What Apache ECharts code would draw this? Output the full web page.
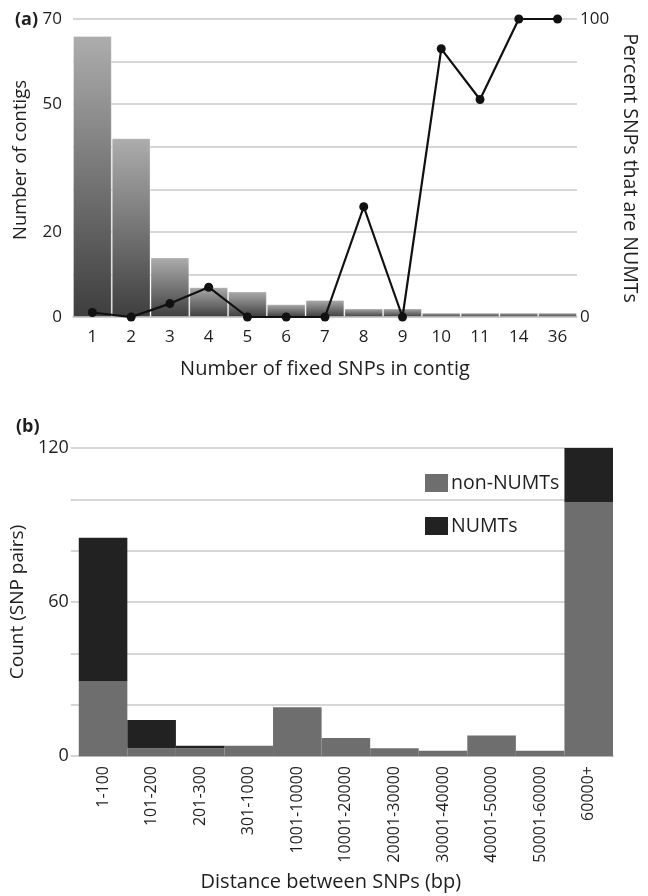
<!DOCTYPE html>
<html>
<head>
<meta charset="utf-8">
<script src="https://cdn.jsdelivr.net/npm/echarts@6/dist/echarts.min.js"></script>
<style>
html,body{margin:0;padding:0;background:#fff;}
#chart{width:648px;height:896px;}
</style>
</head>
<body>
<div id="chart"></div>
<script>
// Panel (a)
const fixedSnps = ['1','2','3','4','5','6','7','8','9','10','11','14','36'];
const contigCounts = [66, 42, 14, 7, 6, 3, 4, 2, 2, 1, 1, 1, 1];
const percentNumts = [1.5, 0, 4.5, 10, 0, 0, 0, 37, 0, 90, 73, 100, 100];
const leftTicksShown = [0, 20, 50, 70];
// Panel (b)
const distBins = ['1-100','101-200','201-300','301-1000','1001-10000','10001-20000','20001-30000','30001-40000','40001-50000','50001-60000','60000+'];
const nonNumts = [29, 3, 3, 4, 19, 7, 3, 2, 8, 2, 99];
const numts = [56, 11, 1, 0, 0, 0, 0, 0, 0, 0, 21];
const countTicksShown = [0, 60, 120];

const FONT = 'Open Sans';
const TXT = '#1e1e1e';
const GRIDC = '#c8c8c8';

const chart = echarts.init(document.getElementById('chart'), null, {renderer: 'canvas'});
chart.setOption({
  animation: false,
  textStyle: {fontFamily: FONT, color: TXT},
  title: [
    {text: '(a)', left: 10, top: 6, textStyle: {fontFamily: FONT, fontWeight: 'bold', fontSize: 18, color: TXT}},
    {text: '(b)', left: 11, top: 413, textStyle: {fontFamily: FONT, fontWeight: 'bold', fontSize: 18, color: TXT}}
  ],
  legend: {
    orient: 'vertical',
    left: 420, top: 468,
    itemWidth: 23, itemHeight: 18, itemGap: 23,
    icon: 'rect',
    textStyle: {fontFamily: FONT, fontSize: 19.5, color: TXT, padding: [0,0,0,-2]},
    data: ['non-NUMTs', 'NUMTs']
  },
  grid: [
    {left: 73, top: 19, width: 518, height: 298},
    {left: 73, top: 448, width: 540, height: 308}
  ],
  xAxis: [
    {
      type: 'category', gridIndex: 0, data: fixedSnps,
      axisTick: {show: false},
      axisLine: {lineStyle: {color: GRIDC, width: 1.5}},
      axisLabel: {fontSize: 17, color: TXT, margin: 12, fontFamily: FONT},
      name: 'Number of fixed SNPs in contig', nameLocation: 'middle', nameGap: 42,
      nameTextStyle: {fontSize: 20, color: TXT, fontFamily: FONT}
    },
    {
      type: 'category', gridIndex: 1, data: distBins,
      axisTick: {show: false},
      axisLine: {lineStyle: {color: '#aaaaaa', width: 1.5}},
      axisLabel: {fontSize: 16, color: TXT, margin: 10, rotate: 90, interval: 0, fontFamily: FONT},
      name: 'Distance between SNPs (bp)', nameLocation: 'middle', nameGap: 116,
      nameTextStyle: {fontSize: 20, color: TXT, fontFamily: FONT, padding: [0, 30, 0, 0]}
    }
  ],
  yAxis: [
    {
      type: 'value', gridIndex: 0, min: 0, max: 70, interval: 10,
      axisLine: {show: false}, axisTick: {show: false},
      splitLine: {lineStyle: {color: GRIDC, width: 1.5}},
      axisLabel: {fontSize: 17, color: TXT, margin: 11, fontFamily: FONT,
        formatter: v => leftTicksShown.indexOf(v) >= 0 ? String(v) : ''},
      name: 'Number of contigs', nameLocation: 'middle', nameGap: 43,
      nameTextStyle: {fontSize: 18.5, color: TXT, fontFamily: FONT, padding: [0, 0, 0, 16]}
    },
    {
      type: 'value', gridIndex: 0, position: 'right', min: 0, max: 100, interval: 100,
      axisLine: {show: false}, axisTick: {show: false}, splitLine: {show: false},
      axisLabel: {fontSize: 17, color: TXT, margin: 3, fontFamily: FONT},
      name: 'Percent SNPs that are NUMTs', nameLocation: 'middle', nameGap: 36, nameRotate: -90,
      nameTextStyle: {fontSize: 19.5, color: TXT, fontFamily: FONT}
    },
    {
      type: 'value', gridIndex: 1, min: 0, max: 120, interval: 20,
      axisLine: {show: false},
      axisTick: {show: true, length: 8, lineStyle: {color: GRIDC, width: 1.5}},
      splitLine: {lineStyle: {color: GRIDC, width: 1.5}},
      axisLabel: {fontSize: 18, color: TXT, margin: 10, fontFamily: FONT,
        formatter: v => countTicksShown.indexOf(v) >= 0 ? String(v) : ''},
      name: 'Count (SNP pairs)', nameLocation: 'middle', nameGap: 40,
      nameTextStyle: {fontSize: 19, color: TXT, fontFamily: FONT}
    }
  ],
  series: [
    {
      name: 'contigs', type: 'bar', xAxisIndex: 0, yAxisIndex: 0,
      data: contigCounts, barCategoryGap: '0%',
      itemStyle: {
        color: {type: 'linear', x: 0, y: 0, x2: 0, y2: 1,
          colorStops: [{offset: 0, color: '#adadad'}, {offset: 1, color: '#3e3e3e'}]},
        borderColor: 'rgba(255,255,255,0.3)', borderWidth: 1
      }
    },
    {
      name: 'percent', type: 'line', xAxisIndex: 0, yAxisIndex: 1,
      data: percentNumts, symbol: 'circle', symbolSize: 9,
      itemStyle: {color: '#111'}, lineStyle: {color: '#111', width: 2.2}, z: 5
    },
    {
      name: 'non-NUMTs', type: 'bar', xAxisIndex: 1, yAxisIndex: 2, stack: 'd',
      data: nonNumts, barCategoryGap: '0%', itemStyle: {color: '#6e6e6e'}
    },
    {
      name: 'NUMTs', type: 'bar', xAxisIndex: 1, yAxisIndex: 2, stack: 'd',
      data: numts, barCategoryGap: '0%', itemStyle: {color: '#222222'}
    }
  ]
});
</script>
</body>
</html>
